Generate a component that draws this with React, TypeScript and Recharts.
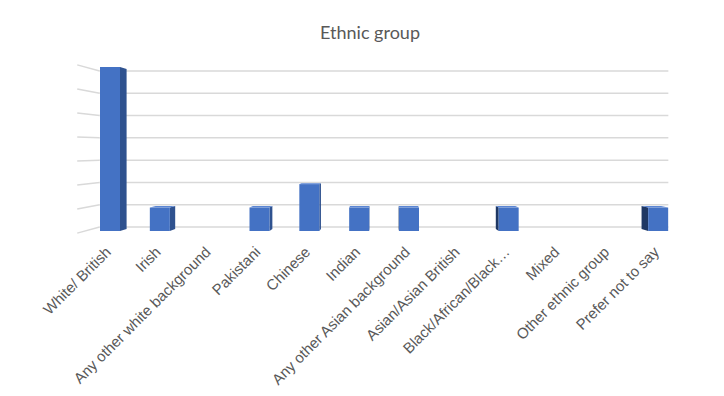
import React from 'react';
import { BarChart, Bar, XAxis, YAxis, CartesianGrid } from 'recharts';

const categories = [
  'White/ British',
  'Irish',
  'Any other white background',
  'Pakistani',
  'Chinese',
  'Indian',
  'Any other Asian background',
  'Asian/Asian British',
  'Black/African/Black…',
  'Mixed',
  'Other ethnic group',
  'Prefer not to say',
];
const counts = [7, 1, 0, 1, 2, 1, 1, 0, 1, 0, 0, 1];
const yTicks = [0, 1, 2, 3, 4, 5, 6, 7];

const chartData = categories.map((name, i) => ({ name, value: counts[i] }));

// plot area (front plane of the 3D box)
const W = 724;
const H = 396;
const LEFT = 85;
const RIGHT = 683;
const TOP = 67;
const BOTTOM = 231;
const CX = (LEFT + RIGHT) / 2;
const CY = (TOP + BOTTOM) / 2;

// depth factors toward the vanishing point
const WALL = 0.951;
const BAR_DEPTH = 0.975;
const SIDE_FRONT = 1.026;

const px = (x: number, s: number) => CX + (x - CX) * s;
const py = (y: number, s: number) => CY + (y - CY) * s;

const gridCoords = ({ yAxis, offset }: any) => {
  const yMax = yTicks[yTicks.length - 1];
  return yTicks.map((t) =>
    yAxis && typeof yAxis.scale === 'function'
      ? yAxis.scale(t)
      : offset.top + offset.height * (1 - t / yMax)
  );
};

const GridLine = (props: any) => {
  const { y1, index } = props;
  const bx1 = px(LEFT, WALL);
  const bx2 = px(RIGHT, WALL);
  const by = py(y1, WALL);
  return (
    <g key={`grid-${index}`}>
      <line x1={bx1} y1={by} x2={bx2} y2={by} stroke="#d9d9d9" strokeWidth={1.5} />
      <line
        x1={px(LEFT, SIDE_FRONT)}
        y1={py(y1, SIDE_FRONT)}
        x2={bx1}
        y2={by}
        stroke="#d9d9d9"
        strokeWidth={1.5}
      />
    </g>
  );
};

const Column3D = (props: any) => {
  const { x, y, width, height } = props;
  if (!height || height <= 0) return <g />;
  const x2 = x + width;
  const y2 = y + height;
  const s = BAR_DEPTH;
  const pts = (arr: number[][]) => arr.map((p) => p.join(',')).join(' ');
  let side = null;
  if (x2 < CX) {
    side = (
      <polygon
        points={pts([[x2, y], [px(x2, s), py(y, s)], [px(x2, s), py(y2, s)], [x2, y2]])}
        fill="#2f528f"
      />
    );
  } else if (x > CX) {
    side = (
      <polygon
        points={pts([[x, y], [px(x, s), py(y, s)], [px(x, s), py(y2, s)], [x, y2]])}
        fill="#1f3864"
      />
    );
  }
  const top =
    y > CY ? (
      <polygon
        points={pts([[x, y], [x2, y], [px(x2, s), py(y, s)], [px(x, s), py(y, s)]])}
        fill="#5b86d4"
      />
    ) : null;
  return (
    <g>
      {side}
      {top}
      <rect x={x} y={y} width={width} height={height} fill="#4472c4" />
    </g>
  );
};

const AngledTick = (props: any) => {
  const { x, payload } = props;
  const tx = x + 2;
  const ty = 253;
  return (
    <text
      x={tx}
      y={ty}
      transform={`rotate(-45 ${tx} ${ty})`}
      textAnchor="end"
      fill="#595959"
      fontSize={15}
      fontFamily="'Liberation Sans', Arial, sans-serif"
    >
      {payload.value}
    </text>
  );
};

export default function App() {
  return (
    <div
      style={{
        position: 'absolute',
        left: 0,
        top: 0,
        width: W,
        height: H,
        background: '#ffffff',
      }}
    >
      <svg
        width={W}
        height={50}
        style={{ position: 'absolute', left: 0, top: 0 }}
      >
        <text
          x={370}
          y={38.7}
          textAnchor="middle"
          fill="#595959"
          fontSize={18}
          fontFamily="Lato, 'Open Sans', sans-serif"
        >
          Ethnic group
        </text>
      </svg>

      <BarChart
        width={W}
        height={H}
        data={chartData}
        margin={{ top: TOP, right: W - RIGHT, left: LEFT, bottom: 0 }}
        barSize={20}
      >
        <CartesianGrid
          vertical={false}
          horizontal={GridLine}
          horizontalCoordinatesGenerator={gridCoords}
        />
        <XAxis
          dataKey="name"
          interval={0}
          height={H - BOTTOM}
          axisLine={false}
          tickLine={false}
          tickSize={0}
          tickMargin={0}
          tick={AngledTick}
        />
        <YAxis
          width={0}
          domain={[0, 7]}
          ticks={yTicks}
          interval={0}
          tick={false}
          axisLine={false}
          tickLine={false}
        />
        <Bar
          dataKey="value"
          shape={Column3D}
          isAnimationActive={false}
        />
      </BarChart>
    </div>
  );
}
